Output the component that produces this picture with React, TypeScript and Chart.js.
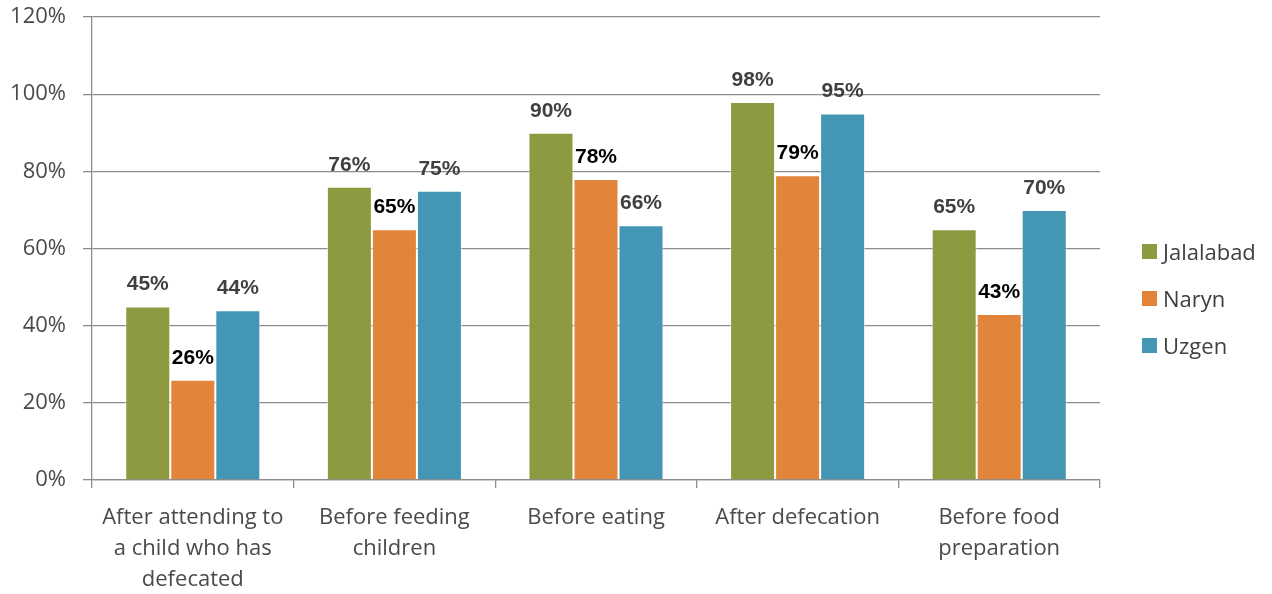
import React, { useEffect, useRef } from "react";
import { Chart, registerables } from "chart.js";

Chart.register(...registerables);

// Hand-washing occasions (multi-line category labels)
const categories: string[][] = [
  ["After attending to", "a child who has", "defecated"],
  ["Before feeding", "children"],
  ["Before eating"],
  ["After defecation"],
  ["Before food", "preparation"],
];

const seriesNames = ["Jalalabad", "Naryn", "Uzgen"];
const jalalabad = [45, 76, 90, 98, 65];
const naryn = [26, 65, 78, 79, 43];
const uzgen = [44, 75, 66, 95, 70];

const seriesColors = ["#8E9A3F", "#E2843A", "#4397B4"];
const valueLabelColors = ["#404040", "#000000", "#404040"];

const yTicks = [0, 20, 40, 60, 80, 100, 120];

const AXIS_GRAY = "#8c8c8c";
const TEXT_GRAY = "#4a4a4a";

// Draws "NN%" above each bar, using the bar's own value and position
const valueLabels = {
  id: "valueLabels",
  afterDatasetsDraw(chart: any) {
    const ctx = chart.ctx;
    ctx.save();
    ctx.font = "bold 21px 'Liberation Sans', Arial, sans-serif";
    ctx.textAlign = "center";
    ctx.textBaseline = "alphabetic";
    chart.data.datasets.forEach((ds: any, di: number) => {
      const meta = chart.getDatasetMeta(di);
      ctx.fillStyle = valueLabelColors[di];
      meta.data.forEach((bar: any, i: number) => {
        ctx.fillText(`${ds.data[i]}%`, bar.x, bar.y - 16);
      });
    });
    ctx.restore();
  },
};

export default function App() {
  const canvasRef = useRef<HTMLCanvasElement | null>(null);

  useEffect(() => {
    document.body.style.margin = "0";
    const canvas = canvasRef.current;
    if (!canvas) return;
    const values = [jalalabad, naryn, uzgen];
    const chart = new Chart(canvas, {
      type: "bar",
      data: {
        labels: categories,
        datasets: seriesNames.map((name, i) => ({
          label: name,
          data: values[i],
          backgroundColor: seriesColors[i],
          borderColor: "rgba(255,255,255,0.55)",
          borderWidth: 1,
          categoryPercentage: 0.67,
          barPercentage: 1.0,
        })),
      },
      options: {
        responsive: false,
        animation: false,
        devicePixelRatio: 1,
        layout: { padding: { top: 17, right: 172, bottom: 0, left: 0 } },
        plugins: {
          legend: { display: false },
          tooltip: { enabled: false },
        },
        scales: {
          x: {
            offset: true,
            grid: {
              display: true,
              drawOnChartArea: false,
              drawTicks: true,
              tickLength: 8,
              color: AXIS_GRAY,
              lineWidth: 1.3,
              offset: true,
            },
            border: { display: true, color: AXIS_GRAY, width: 1.3 },
            ticks: {
              color: TEXT_GRAY,
              font: { family: "'Open Sans', sans-serif", size: 22, lineHeight: 1.42 },
              padding: 14,
              maxRotation: 0,
              autoSkip: false,
            },
            afterFit: (s: any) => {
              s.height = 114;
              s.paddingLeft = 0;
              s.paddingRight = 0;
            },
          },
          y: {
            min: 0,
            max: 120,
            afterBuildTicks: (s: any) => {
              s.ticks = yTicks.map((v) => ({ value: v }));
            },
            grid: {
              color: AXIS_GRAY,
              lineWidth: 1.3,
              drawTicks: true,
              tickLength: 9,
            },
            border: { display: true, color: AXIS_GRAY, width: 1.3 },
            ticks: {
              color: TEXT_GRAY,
              font: { family: "'Open Sans', sans-serif", size: 22 },
              padding: 17,
              callback: (v: any) => `${v}%`,
            },
            afterFit: (s: any) => {
              s.width = 92;
              s.paddingTop = 0;
              s.paddingBottom = 0;
            },
          },
        },
      },
      plugins: [valueLabels],
    });
    return () => chart.destroy();
  }, []);

  const legendTops = [244, 291, 338];

  return (
    <div style={{ position: "relative", width: 1272, height: 594, background: "#fff" }}>
      <canvas ref={canvasRef} width={1272} height={594} style={{ display: "block" }} />
      {seriesNames.map((name, i) => (
        <div
          key={name}
          style={{
            position: "absolute",
            left: 1142,
            top: legendTops[i],
            height: 15,
            display: "flex",
            alignItems: "center",
            fontFamily: "'Open Sans', sans-serif",
            fontSize: 22,
            color: "#404040",
            whiteSpace: "nowrap",
          }}
        >
          <span
            style={{
              display: "inline-block",
              width: 15,
              height: 15,
              background: seriesColors[i],
              marginRight: 6,
            }}
          />
          <span style={{ lineHeight: "15px" }}>{name}</span>
        </div>
      ))}
    </div>
  );
}
